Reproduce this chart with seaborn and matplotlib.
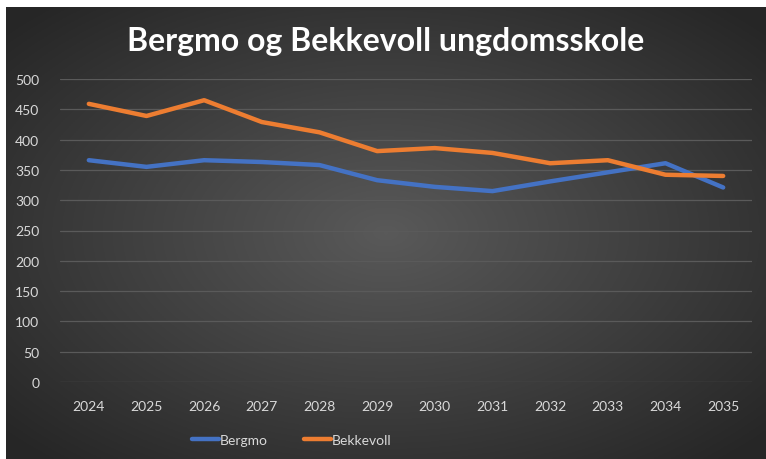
import numpy as np
import pandas as pd
import seaborn as sns
import matplotlib.pyplot as plt

# Values
years = [2024, 2025, 2026, 2027, 2028, 2029, 2030, 2031, 2032, 2033, 2034, 2035]
bergmo = [366, 355, 366, 363, 358, 333, 322, 315, 331, 346, 361, 321]
bekkevoll = [459, 439, 465, 429, 412, 381, 386, 378, 361, 366, 342, 340]
y_ticks = [0, 50, 100, 150, 200, 250, 300, 350, 400, 450, 500]

df = pd.DataFrame({
    "year": years * 2,
    "elever": bergmo + bekkevoll,
    "skole": ["Bergmo"] * len(years) + ["Bekkevoll"] * len(years),
})

sns.set_theme(style="dark")
plt.rcParams['font.family'] = ['Lato', 'DejaVu Sans']

fig = plt.figure(figsize=(7.66, 4.6), dpi=100)
fig.patch.set_facecolor("white")

# dark radial gradient backdrop like the Excel chart style
bg = fig.add_axes([6 / 766, 0, 1 - 6 / 766, 1 - 8 / 460])
gx, gy = np.meshgrid(np.linspace(-1, 1, 400), np.linspace(-1, 1, 240))
r = np.clip(np.sqrt(gx ** 2 + gy ** 2) / 1.35, 0, 1)
c0, c1 = np.array([0.35, 0.35, 0.35]), np.array([0.15, 0.15, 0.15])
img = c0[None, None, :] * (1 - r[..., None]) + c1[None, None, :] * r[..., None]
bg.imshow(img, aspect="auto", extent=[0, 1, 0, 1])
bg.axis("off")
bg.set_zorder(0)

ax = fig.add_axes([60 / 766, 1 - 383 / 460, (752 - 60) / 766, (383 - 80) / 460])
ax.set_zorder(1)
ax.patch.set_alpha(0)

sns.lineplot(data=df, x="year", y="elever", hue="skole",
             palette={"Bergmo": "#4472C4", "Bekkevoll": "#ED7D31"},
             linewidth=3.2, ax=ax)

ax.set_xlim(2023.5, 2035.5)
ax.set_ylim(0, 500)
ax.set_xticks(years)
ax.set_xticklabels([str(y) for y in years])
ax.set_yticks(y_ticks)
ax.yaxis.grid(True, color="#5a5a5a", linewidth=0.9)
ax.xaxis.grid(False)
for s in ax.spines.values():
    s.set_visible(False)
ax.tick_params(axis="both", colors="#d9d9d9", labelsize=10, length=0)
ax.tick_params(axis="y", pad=15)
ax.tick_params(axis="x", pad=13)
ax.set_xlabel("")
ax.set_ylabel("")

fig.text(0.503, 1 - 42 / 460, "Bergmo og Bekkevoll ungdomsskole",
         ha="center", va="center", color="white", fontsize=23, fontweight="bold")

ax.legend(loc="center", bbox_to_anchor=(292 / 766, 1 - 441 / 460), bbox_transform=fig.transFigure,
          ncol=2, frameon=False, labelcolor="#d9d9d9", fontsize=10,
          handlelength=1.9, handletextpad=0.1, columnspacing=2.6)

fig.savefig("out.png", dpi=100, facecolor=fig.get_facecolor())
